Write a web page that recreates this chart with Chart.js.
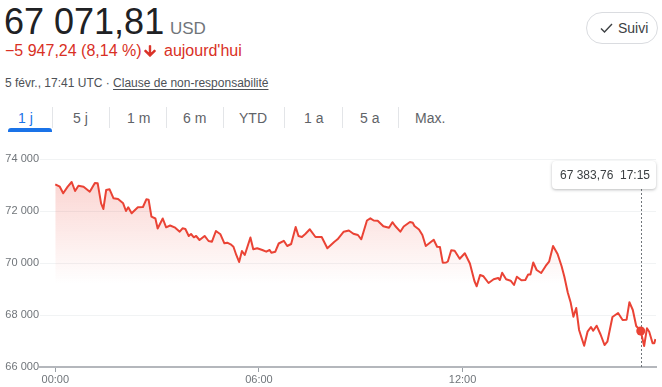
<!DOCTYPE html>
<html>
<head>
<meta charset="utf-8">
<script src="https://cdn.jsdelivr.net/npm/chart.js@4"></script>
<style>
  body { margin: 0; width: 662px; height: 387px; background: #fff; font-family: Arial, "Liberation Sans", sans-serif; position: relative; overflow: hidden; }
  .abs { position: absolute; white-space: nowrap; }
  #price { left: 4px; top: 4px; font-size: 36px; line-height: 36px; color: #202124; }
  #cur { left: 170px; top: 20px; font-size: 17px; line-height: 17px; color: #70757a; }
  #chg { left: 5px; top: 43px; font-size: 16px; line-height: 16px; color: #d93025; }
  #chg svg { vertical-align: -3px; margin: 0 2px 0 0; }
  #meta { left: 5px; top: 77px; font-size: 12px; line-height: 12px; color: #4d5156; }
  #meta u { text-underline-offset: 2px; }
  .tab { top: 111px; font-size: 14px; line-height: 14px; color: #5f6368; }
  .sep { position: absolute; top: 107px; width: 1px; height: 21px; background: #e3e5e8; }
  #bar { left: 8px; top: 128px; width: 44px; height: 4px; background: #1a73e8; border-radius: 3px 3px 0 0; }
  #follow { left: 586px; top: 12px; width: 70px; height: 30px; border: 1px solid #dadce0; border-radius: 16px; box-sizing: content-box; }
  #follow svg { position: absolute; left: 13px; top: 9px; }
  #follow span { position: absolute; left: 31px; top: 8px; font-size: 14px; line-height: 14px; color: #3c4043; }
  #wrap { position: absolute; left: 0; top: 140px; width: 662px; height: 247px; }
  #tip { position: absolute; top: 161px; width: 104px; height: 28px; background: #fff; border-radius: 4px;
         box-shadow: 0 1px 3px rgba(60,64,67,0.35); font-size: 12px; line-height: 28px; color: #3c4043; display: none; }
  #tip .v { position: absolute; left: 8px; }
  #tip .t { position: absolute; left: 68px; }
</style>
</head>
<body>
<div class="abs" id="price">67 071,81</div>
<div class="abs" id="cur">USD</div>
<div class="abs" id="chg">−5 947,24 (8,14 %)<svg width="16" height="16" viewBox="0 0 24 24"><path fill="#d93025" stroke="#d93025" stroke-width="1.6" stroke-linejoin="round" d="M20 12l-1.41-1.41L13 16.17V4h-2v12.17l-5.58-5.59L4 12l8 8 8-8z"/></svg> aujourd'hui</div>
<div class="abs" id="meta">5 févr., 17:41 UTC · <u>Clause de non-responsabilité</u></div>

<div class="abs tab" style="left:18px;color:#1a73e8">1 j</div>
<div class="sep" style="left:52px"></div>
<div class="abs tab" style="left:73px">5 j</div>
<div class="sep" style="left:109px"></div>
<div class="abs tab" style="left:127px">1 m</div>
<div class="sep" style="left:166px"></div>
<div class="abs tab" style="left:183px">6 m</div>
<div class="sep" style="left:223px"></div>
<div class="abs tab" style="left:239px">YTD</div>
<div class="sep" style="left:284px"></div>
<div class="abs tab" style="left:304px">1 a</div>
<div class="sep" style="left:342px"></div>
<div class="abs tab" style="left:360px">5 a</div>
<div class="sep" style="left:398px"></div>
<div class="abs tab" style="left:415px">Max.</div>
<div class="abs" id="bar"></div>

<div class="abs" id="follow">
  <svg width="13" height="12" viewBox="0 0 13 12"><polyline points="1,6.5 4.5,10 12,2" fill="none" stroke="#3c4043" stroke-width="1.4"/></svg>
  <span>Suivi</span>
</div>

<div id="wrap"><canvas id="myChart" width="662" height="247"></canvas></div>
<div id="tip"><span class="v">67 383,76</span><span class="t">17:15</span></div>

<script>
// minutes since 00:00 UTC
var times = [0, 8, 14, 22, 29, 35, 41, 50, 61, 70, 75, 81, 85, 90, 96, 103, 111, 120, 125, 129,
    135, 146, 155, 161, 165, 170, 177, 181, 190, 196, 203, 212, 220, 225, 230, 236, 240, 245, 249, 255,
    264, 271, 277, 284, 292, 299, 304, 310, 315, 320, 325, 330, 335, 345, 350, 357, 366, 373, 379, 382,
    389, 395, 404, 410, 417, 425, 430, 436, 442, 450, 460, 471, 481, 493, 499, 510, 519, 527, 535, 541,
    551, 557, 563, 570, 580, 590, 596, 601, 610, 616, 627, 632, 635, 643, 649, 655, 669, 675, 680, 685,
    691, 694, 700, 706, 715, 724, 733, 741, 745, 751, 757, 766, 775, 783, 786, 790, 797, 805, 811, 816,
    824, 831, 836, 840, 845, 851, 859, 867, 873, 880, 888, 895, 900, 906, 911, 916, 921, 926, 935, 941,
    947, 951, 957, 964, 971, 976, 985, 995, 1003, 1010, 1015, 1021, 1027, 1035, 1041, 1046, 1050, 1056, 1059, 1061];
// BTC / USD
var prices = [73027, 72935, 72681, 72935, 73115, 72769, 72973, 72935, 72742, 73077, 73065, 72296, 72077, 72808, 72835, 72489, 72462, 72296, 72000, 72142,
    71912, 72142, 72154, 72450, 72435, 71781, 71712, 71327, 71712, 71373, 71442, 71358, 71204, 71335, 71308, 71039, 71115, 70989, 71039, 70885,
    71039, 70846, 70819, 71231, 71104, 70758, 70781, 70719, 70627, 70308, 70039, 70462, 70308, 70981, 70527, 70566, 70500, 70435, 70500, 70396,
    70435, 70750, 70854, 70654, 70731, 71385, 71039, 71000, 71115, 71296, 71000, 71000, 70566, 70808, 70912, 71204, 71250, 71127, 71077, 70912,
    71635, 71719, 71635, 71627, 71412, 71354, 71569, 71423, 71204, 71404, 71577, 71546, 71423, 71289, 71077, 70654, 70896, 70627, 70615, 70012,
    70019, 70058, 70489, 70473, 70162, 70373, 69981, 69308, 69104, 69539, 69489, 69231, 69373, 69423, 69346, 69627, 69373, 69319, 69154, 69473,
    69335, 69346, 69558, 69558, 70019, 69731, 69615, 69885, 70050, 70654, 70346, 69885, 69473, 68866, 68493, 67935, 68269, 67423, 66816, 67358,
    67539, 67396, 67589, 67250, 66846, 66973, 67923, 68077, 67808, 67819, 68493, 68193, 67577, 67383.76, 66808, 67489, 67358, 66912, 66912, 67071.81];

var yTickValues = [66000, 68000, 70000, 72000, 74000];
var xTickValues = [0, 360, 720];
var xTickLabels = ['00:00', '06:00', '12:00'];
var hoverTime = 1035;
var hoverIdx = times.indexOf(hoverTime);

function fmtNum(v) {
    return String(v).replace(/\B(?=(\d{3})+(?!\d))/g, ' ');
}

var lineRed = '#ea4335';

// dashed marker line under the hovered point + html tooltip
var hoverLine = {
    id: 'hoverLine',
    beforeDatasetsDraw: function(chart) {
        var pt = chart.getDatasetMeta(0).data[hoverIdx];
        var ctx = chart.ctx;
        ctx.save();
        ctx.strokeStyle = '#70757a';
        ctx.lineWidth = 1;
        ctx.setLineDash([2, 2]);
        ctx.beginPath();
        ctx.moveTo(Math.round(pt.x) + 0.5, 49);
        ctx.lineTo(Math.round(pt.x) + 0.5, chart.chartArea.bottom);
        ctx.stroke();
        ctx.restore();
    },
    afterDraw: function(chart) {
        var pt = chart.getDatasetMeta(0).data[hoverIdx];
        var tip = document.getElementById('tip');
        tip.style.left = Math.round(pt.x - 89) + 'px';
        tip.style.display = 'block';
    }
};

var ctx = document.getElementById("myChart").getContext('2d');
var myChart = new Chart(ctx, {
    type: 'line',
    data: {
        datasets: [{
            data: times.map(function(t, i) { return { x: t, y: prices[i] }; }),
            borderColor: lineRed,
            borderWidth: 2,
            borderJoinStyle: 'round',
            tension: 0,
            fill: 'start',
            backgroundColor: function(context) {
                var area = context.chart.chartArea;
                if (!area) return 'rgba(234,67,53,0.1)';
                var g = context.chart.ctx.createLinearGradient(0, area.top, 0, area.top + 125);
                g.addColorStop(0, 'rgba(234,67,53,0.27)');
                g.addColorStop(1, 'rgba(234,67,53,0)');
                return g;
            },
            pointRadius: function(c) { return c.dataIndex === hoverIdx ? 4.5 : 0; },
            pointBackgroundColor: lineRed,
            pointBorderWidth: 0
        }]
    },
    options: {
        responsive: false,
        animation: false,
        devicePixelRatio: 1,
        events: [],
        layout: { padding: { top: 19, right: 6, left: 0, bottom: 0 } },
        plugins: { legend: { display: false }, tooltip: { enabled: false } },
        scales: {
            x: {
                type: 'linear',
                min: -27,
                max: 1062,
                afterBuildTicks: function(s) { s.ticks = xTickValues.map(function(v) { return { value: v }; }); },
                afterFit: function(s) { s.height = 20; },
                ticks: {
                    callback: function(v, i) { return xTickLabels[i]; },
                    font: { size: 11, family: 'Arial' },
                    color: '#70757a',
                    padding: 1,
                    maxRotation: 0,
                    autoSkip: false
                },
                grid: { drawOnChartArea: false, drawTicks: true, tickLength: 5, color: '#9aa0a6', lineWidth: 1 },
                border: { display: true, color: '#b4b7bc', width: 2 }
            },
            y: {
                min: 66000,
                max: 74000,
                afterBuildTicks: function(s) { s.ticks = yTickValues.map(function(v) { return { value: v }; }); },
                afterFit: function(s) { s.width = 40; },
                ticks: {
                    callback: function(v) { return fmtNum(v); },
                    font: { size: 11, family: 'Arial' },
                    color: '#70757a',
                    padding: 1
                },
                grid: { color: '#f1f3f4', lineWidth: 1, drawTicks: false },
                border: { display: false }
            }
        }
    },
    plugins: [hoverLine]
});
</script>
</body>
</html>
